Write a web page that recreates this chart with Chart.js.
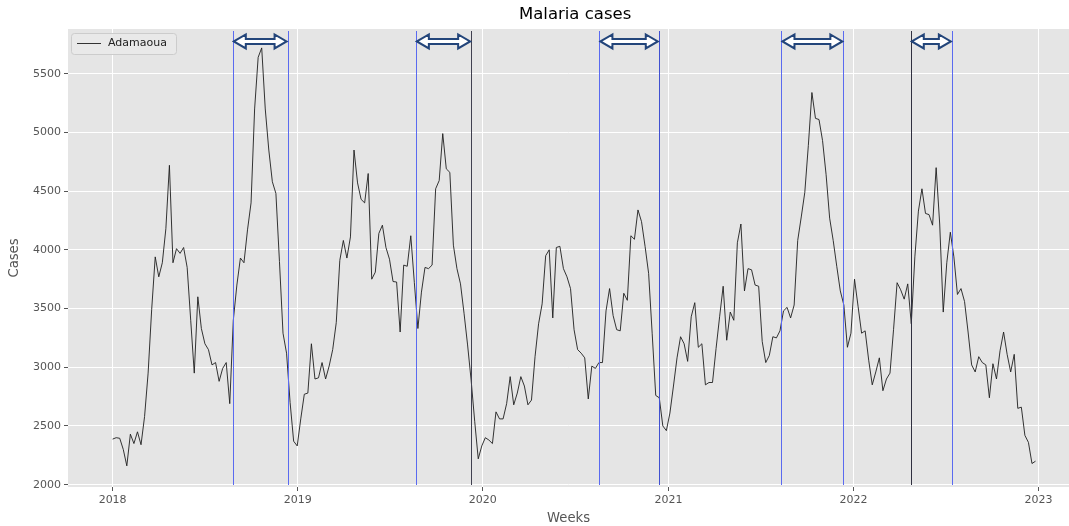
<!DOCTYPE html>
<html>
<head>
<meta charset="utf-8">
<script src="https://cdn.jsdelivr.net/npm/chart.js"></script>
<style>
  html, body { margin: 0; padding: 0; background: #fff; }
  #wrap { width: 1069px; height: 526px; }
</style>
</head>
<body>
<div id="wrap"><canvas id="malariaChart" width="1069" height="526"></canvas></div>
<script>
// weekly malaria cases, Adamaoua, one value per week starting 2018-01-01
const firstWeek = '2018-01-01';
const regionName = 'Adamaoua';
const cases = [
  2388, 2400, 2395, 2300, 2160, 2430, 2350, 2450, 2340, 2580,
  2950, 3490, 3940, 3770, 3890, 4180, 4720, 3890, 4010, 3970,
  4020, 3850, 3400, 2950, 3600, 3330, 3200, 3150, 3020, 3040,
  2880, 2990, 3040, 2690, 3400, 3700, 3930, 3890, 4170, 4400,
  5200, 5640, 5720, 5200, 4850, 4580, 4480, 3900, 3290, 3120,
  2700, 2370, 2330, 2560, 2770, 2780, 3200, 2900, 2910, 3040,
  2900, 3010, 3150, 3380, 3910, 4080, 3930, 4110, 4850, 4570,
  4430, 4400, 4650, 3750, 3810, 4140, 4210, 4020, 3920, 3730,
  3726, 3300, 3870, 3860, 4120, 3720, 3330, 3640, 3850, 3840,
  3870, 4520, 4590, 4990, 4690, 4660, 4040, 3840, 3710, 3460,
  3190, 2890, 2540, 2220, 2330, 2400, 2380, 2350, 2620, 2560,
  2560, 2690, 2920, 2680, 2780, 2920, 2840, 2680, 2720, 3090,
  3370, 3540, 3950, 4000, 3420, 4020, 4030, 3840, 3770, 3670,
  3320, 3150, 3120, 3080, 2730, 3010, 2990, 3040, 3040, 3480,
  3670, 3440, 3320, 3310, 3630, 3570, 4120, 4090, 4340, 4240,
  4030, 3800, 3290, 2760, 2740, 2500, 2460, 2610, 2840, 3080,
  3260, 3200, 3050, 3430, 3550, 3170, 3200, 2850, 2870, 2870,
  3160, 3430, 3690, 3230, 3470, 3400, 4060, 4220, 3650, 3840,
  3830, 3700, 3690, 3220, 3040, 3100, 3260, 3250, 3310, 3480,
  3510, 3420, 3530, 4080, 4280, 4490, 4890, 5340, 5120, 5110,
  4930, 4640, 4270, 4080, 3860, 3650, 3530, 3170, 3290, 3750,
  3520, 3290, 3310, 3060, 2850, 2960, 3080, 2800, 2900, 2950,
  3320, 3720, 3660, 3580, 3710, 3370, 3940, 4330, 4520, 4310,
  4300, 4210, 4700, 4220, 3470, 3890, 4150, 3940, 3620, 3670,
  3560, 3300, 3020, 2960, 3090, 3040, 3020, 2740, 3030, 2900,
  3140, 3300, 3110, 2960, 3110, 2650, 2660, 2420, 2360, 2180,
  2200
];
const yearTicks = [2018, 2019, 2020, 2021, 2022, 2023];
const caseTicks = [2000, 2500, 3000, 3500, 4000, 4500, 5000, 5500];

// season windows: start / end dates marked by vertical lines with a double arrow
const windowStarts = ['2018-08-26', '2019-08-22', '2020-08-18', '2021-08-12', '2022-04-24'];
const windowEnds   = ['2018-12-12', '2019-12-09', '2020-12-13', '2021-12-12', '2022-07-14'];
const startColors  = ['#5a6af0', '#5a6af0', '#5a6af0', '#5a6af0', '#303040'];
const endColors    = ['#5a6af0', '#404050', '#4050d0', '#5a6af0', '#5a6af0'];
const arrowLevel = 5775;

const DAY = 86400000;
const t0 = Date.parse(firstWeek);
const dayNum = s => Math.round((Date.parse(s) - t0) / DAY);
const yearDay = y => dayNum(y + '-01-01');

const points = cases.map((v, i) => ({ x: i * 7, y: v }));
const font = 'DejaVu Sans';

const backdrop = {
  id: 'backdrop',
  beforeDraw(chart) {
    const { ctx, chartArea: a } = chart;
    ctx.save();
    ctx.fillStyle = '#e5e5e5';
    ctx.fillRect(a.left, a.top, a.right - a.left, a.bottom - a.top);
    ctx.restore();
  }
};

function drawArrow(ctx, x1, x2, y) {
  const L = 12, H = 7, S = 2.5;
  ctx.beginPath();
  ctx.moveTo(x1, y);
  ctx.lineTo(x1 + L, y - H);
  ctx.lineTo(x1 + L, y - S);
  ctx.lineTo(x2 - L, y - S);
  ctx.lineTo(x2 - L, y - H);
  ctx.lineTo(x2, y);
  ctx.lineTo(x2 - L, y + H);
  ctx.lineTo(x2 - L, y + S);
  ctx.lineTo(x1 + L, y + S);
  ctx.lineTo(x1 + L, y + H);
  ctx.closePath();
  ctx.fillStyle = '#ffffff';
  ctx.fill();
  ctx.lineWidth = 2;
  ctx.strokeStyle = '#23457a';
  ctx.lineJoin = 'miter';
  ctx.stroke();
}

const windows = {
  id: 'windows',
  afterDatasetsDraw(chart) {
    const { ctx, chartArea: a, scales: { x, y } } = chart;
    ctx.save();
    windowStarts.forEach((s, k) => {
      const xs = x.getPixelForValue(dayNum(s));
      const xe = x.getPixelForValue(dayNum(windowEnds[k]));
      [[xs, startColors[k]], [xe, endColors[k]]].forEach(([px, col]) => {
        ctx.beginPath();
        ctx.moveTo(Math.round(px) + 0.5, a.top + 2);
        ctx.lineTo(Math.round(px) + 0.5, a.bottom - 2);
        ctx.lineWidth = 1;
        ctx.strokeStyle = col;
        ctx.stroke();
      });
      drawArrow(ctx, xs + 1, xe - 1, y.getPixelForValue(arrowLevel));
    });
    ctx.restore();
  },
  afterDraw(chart) {
    const { ctx, chartArea: a, scales: { x } } = chart;
    ctx.save();
    // title centred over the full (uncropped) axes
    const fullRight = x.getPixelForValue(dayNum('2023-03-28'));
    ctx.fillStyle = '#000';
    ctx.font = '16.5px "' + font + '"';
    ctx.textAlign = 'center';
    ctx.textBaseline = 'middle';
    ctx.fillText('Malaria cases', (a.left + fullRight) / 2, 15);
    // legend box
    const bx = a.left + 3, by = a.top + 4, bw = 105, bh = 21;
    ctx.beginPath();
    ctx.roundRect(bx + 0.5, by + 0.5, bw, bh, 3);
    ctx.fillStyle = 'rgba(233,233,233,0.9)';
    ctx.fill();
    ctx.strokeStyle = '#cccccc';
    ctx.lineWidth = 1;
    ctx.stroke();
    const ly = by + 10.5;
    ctx.beginPath();
    ctx.moveTo(bx + 6, ly);
    ctx.lineTo(bx + 30, ly);
    ctx.strokeStyle = chart.data.datasets[0].borderColor;
    ctx.lineWidth = 0.9;
    ctx.stroke();
    ctx.fillStyle = '#222';
    ctx.font = '11px "' + font + '"';
    ctx.textAlign = 'left';
    ctx.fillText(chart.data.datasets[0].label, bx + 37, ly);
    ctx.restore();
  }
};

new Chart(document.getElementById('malariaChart').getContext('2d'), {
  type: 'line',
  data: {
    datasets: [{
      label: regionName,
      data: points,
      borderColor: '#1e1e1e',
      borderWidth: 0.9,
      pointRadius: 0,
      tension: 0,
      fill: false
    }]
  },
  options: {
    responsive: false,
    animation: false,
    devicePixelRatio: 1,
    layout: { padding: { top: 29, left: 0, right: 0, bottom: 0 } },
    plugins: {
      legend: { display: false },
      title: { display: false },
      tooltip: { enabled: false }
    },
    scales: {
      x: {
        type: 'linear',
        min: -88,
        max: 1886,
        afterFit(scale) { scale.height = 39; },
        afterBuildTicks(scale) {
          scale.ticks = yearTicks.map(yr => ({ value: yearDay(yr) }));
        },
        ticks: {
          autoSkip: false,
          maxRotation: 0,
          padding: 3,
          color: '#555555',
          font: { family: font, size: 11 },
          callback(v) {
            const idx = yearTicks.findIndex(yr => yearDay(yr) === v);
            return idx >= 0 ? String(yearTicks[idx]) : '';
          }
        },
        grid: { color: '#ffffff', lineWidth: 1, tickLength: 4, tickColor: '#555555', drawTicks: true },
        border: { display: false },
        title: {
          display: true,
          text: 'Weeks',
          color: '#555555',
          font: { family: font, size: 13.2 },
          padding: { top: 0, bottom: 0 }
        }
      },
      y: {
        min: 1980,
        max: 5881,
        afterFit(scale) { scale.width = 68; },
        afterBuildTicks(scale) {
          scale.ticks = caseTicks.map(v => ({ value: v }));
        },
        ticks: {
          padding: 3,
          color: '#555555',
          font: { family: font, size: 11 },
          callback: v => String(v)
        },
        grid: { color: '#ffffff', lineWidth: 1, tickLength: 4, tickColor: '#555555', drawTicks: true },
        border: { display: false },
        title: {
          display: true,
          text: 'Cases',
          color: '#555555',
          font: { family: font, size: 13.2 },
          padding: { top: 7, bottom: 0 }
        }
      }
    }
  },
  plugins: [backdrop, windows]
});
</script>
</body>
</html>
